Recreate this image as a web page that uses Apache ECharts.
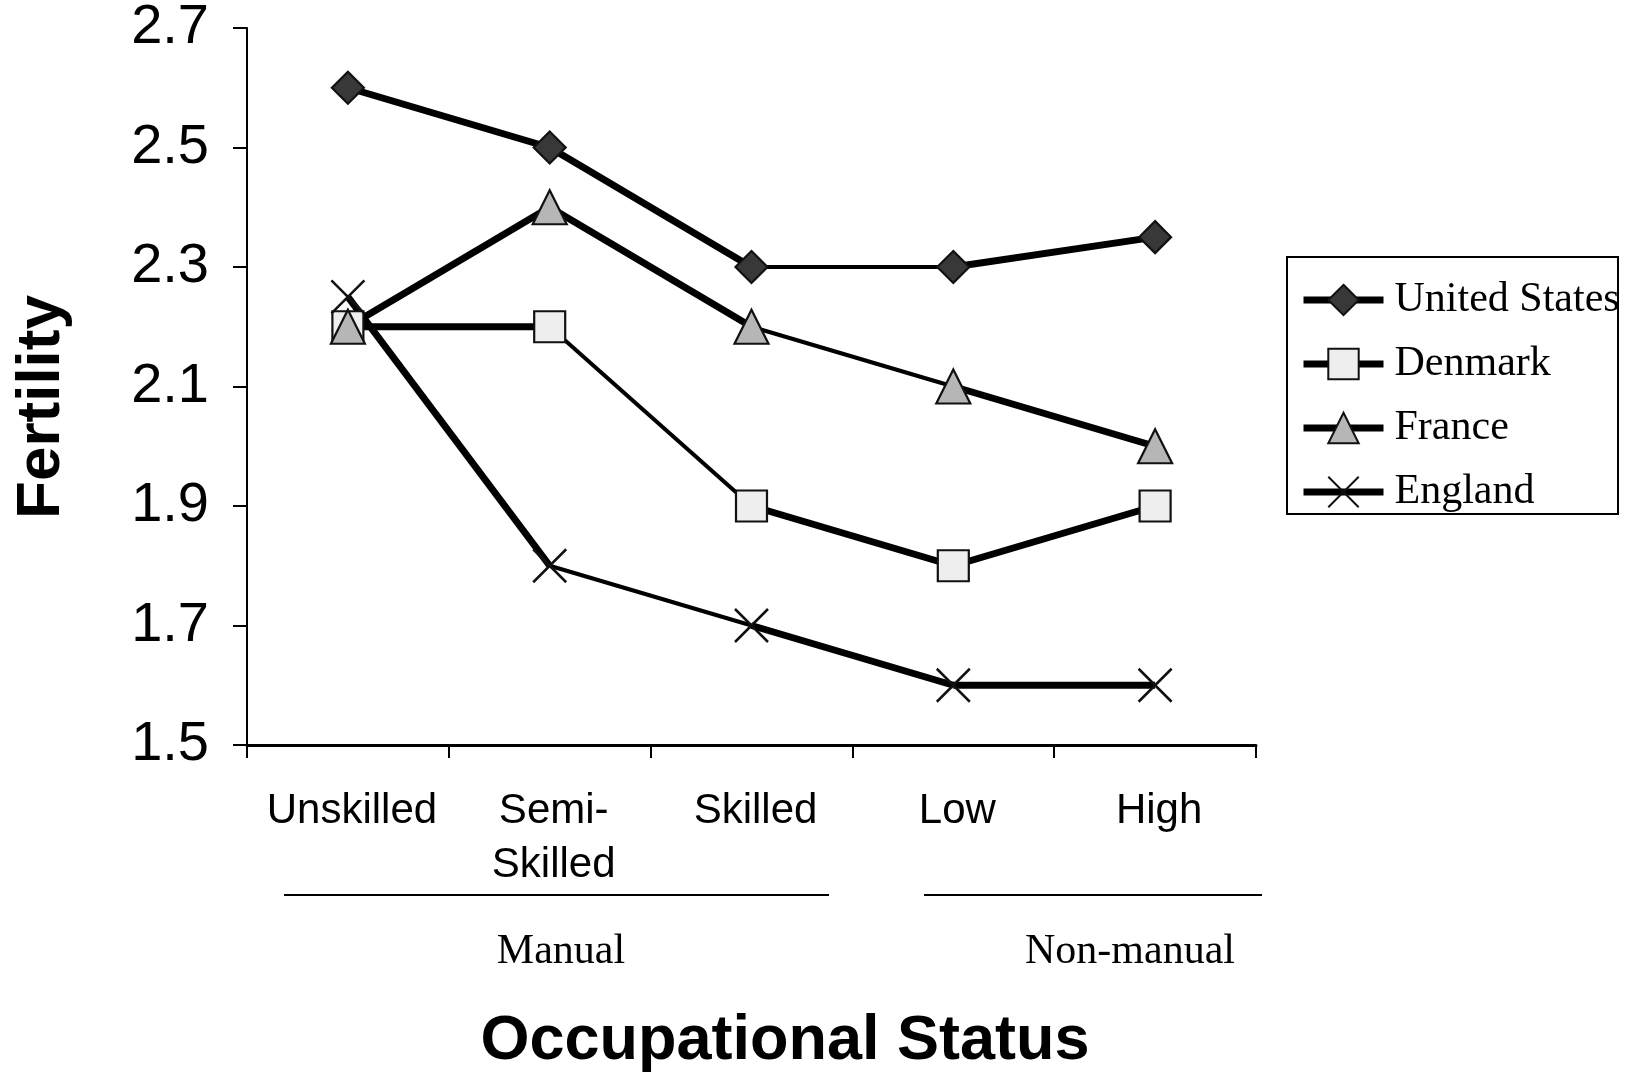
<!DOCTYPE html>
<html>
<head>
<meta charset="utf-8">
<script src="https://cdn.jsdelivr.net/npm/echarts@6/dist/echarts.min.js"></script>
<style>
html,body{margin:0;padding:0;background:#fff;}
#chart{width:1635px;height:1072px;}
</style>
</head>
<body>
<div id="chart"></div>
<script>
// ---- data ----
const categories = ['Unskilled', 'Semi-\nSkilled', 'Skilled', 'Low', 'High'];
const groupLabels = ['Manual', 'Non-manual'];
const countries = ['United States', 'Denmark', 'France', 'England'];
const usValues      = [2.6, 2.5, 2.3, 2.3, 2.35];
const denmarkValues = [2.2, 2.2, 1.9, 1.8, 1.9];
const franceValues  = [2.2, 2.4, 2.2, 2.1, 2.0];
const englandValues = [2.25, 1.8, 1.7, 1.6, 1.6];
// whether each segment between adjacent categories is drawn bold (significant)
const usBold      = [true, true, false, true];
const denmarkBold = [true, false, true, true];
const franceBold  = [true, true, false, true];
const englandBold = [true, false, true, true];
const yMin = 1.5, yMax = 2.7, yStep = 0.2;

// ---- styles ----
const SANS = 'Liberation Sans, Arial, sans-serif';
const SERIF = 'Liberation Serif, Times New Roman, serif';
const THICK = 7, THIN = 4;
const xPath = 'path://M0,0L10,10M10,0L0,10';
const markerStyles = [
  {symbol: 'diamond', size: 32, color: '#383838'},
  {symbol: 'rect', size: 31, color: '#eeeeee'},
  {symbol: 'triangle', size: 34, color: '#b6b6b6'},
  {symbol: xPath, size: 33, color: '#000000'}
];
const valueSets = [usValues, denmarkValues, franceValues, englandValues];
const boldSets = [usBold, denmarkBold, franceBold, englandBold];

const series = [];
// segments
valueSets.forEach((vals, c) => {
  boldSets[c].forEach((bold, i) => {
    series.push({
      name: countries[c] + ' segment ' + i,
      type: 'line',
      data: vals.map((v, k) => (k === i || k === i + 1) ? v : null),
      symbol: 'none',
      silent: true,
      z: 2,
      lineStyle: {color: '#000', width: bold ? THICK : THIN, cap: 'butt', join: 'miter'}
    });
  });
});
// markers
valueSets.forEach((vals, c) => {
  const m = markerStyles[c];
  series.push({
    name: countries[c],
    type: 'line',
    data: vals,
    symbol: m.symbol,
    symbolSize: m.size,
    showSymbol: true,
    showAllSymbol: true,
    z: 3 + c,
    lineStyle: {width: 0, opacity: 0},
    itemStyle: {color: m.color, borderColor: '#111', borderWidth: c === 3 ? 2.5 : 2.2}
  });
});

const chart = echarts.init(document.getElementById('chart'), null, {renderer: 'canvas'});
chart.setOption({
  animation: false,
  backgroundColor: '#fff',
  grid: {left: 247, right: 379, top: 26, bottom: 327, containLabel: false},
  xAxis: {
    type: 'category',
    data: categories,
    boundaryGap: true,
    axisLine: {lineStyle: {color: '#000', width: 3}},
    axisTick: {show: true, length: 13, lineStyle: {color: '#000', width: 2}},
    axisLabel: {color: '#000', fontFamily: SANS, fontSize: 42, lineHeight: 54, margin: 39, interval: 0,
      padding: [0, 0, 0, 8]}
  },
  yAxis: {
    type: 'value',
    min: yMin, max: yMax, interval: yStep,
    splitLine: {show: false},
    axisLine: {show: true, lineStyle: {color: '#000', width: 2}},
    axisTick: {show: true, length: 14, lineStyle: {color: '#000', width: 2}},
    axisLabel: {color: '#000', fontFamily: SANS, fontSize: 56, margin: 38,
      formatter: v => v.toFixed(1)}
  },
  legend: {
    orient: 'vertical',
    left: 1300, top: 278,
    padding: 0,
    itemWidth: 80, itemHeight: 38, itemGap: 20,
    selectedMode: false,
    textStyle: {fontFamily: SERIF, fontSize: 42, lineHeight: 44, color: '#000', padding: [0, 0, 0, 6]},
    data: countries.map((name, c) => ({
      name: name,
      lineStyle: {width: THICK, color: '#000', opacity: 1},
      itemStyle: {color: markerStyles[c].color, borderColor: '#111', borderWidth: 2, opacity: 1}
    }))
  },
  tooltip: {show: false},
  graphic: [
    {type: 'rect', shape: {x: 1287, y: 257, width: 331, height: 257},
     style: {fill: 'none', stroke: '#000', lineWidth: 2}, z: 1},
    {type: 'line', shape: {x1: 284, y1: 895, x2: 829, y2: 895}, style: {stroke: '#000', lineWidth: 2}},
    {type: 'line', shape: {x1: 924, y1: 895, x2: 1262, y2: 895}, style: {stroke: '#000', lineWidth: 2}},
    {type: 'text', x: 561, y: 952, style: {text: groupLabels[0], font: '42px ' + SERIF, fill: '#000', textAlign: 'center', textVerticalAlign: 'middle'}},
    {type: 'text', x: 1130, y: 952, style: {text: groupLabels[1], font: '42px ' + SERIF, fill: '#000', textAlign: 'center', textVerticalAlign: 'middle'}},
    {type: 'text', x: 785, y: 1042, style: {text: 'Occupational Status', font: 'bold 63px ' + SANS, fill: '#000', textAlign: 'center', textVerticalAlign: 'middle'}},
    {type: 'text', x: 42, y: 407, rotation: Math.PI / 2, style: {text: 'Fertility', font: 'bold 62px ' + SANS, fill: '#000', textAlign: 'center', textVerticalAlign: 'middle'}}
  ],
  series: series
});
</script>
</body>
</html>
